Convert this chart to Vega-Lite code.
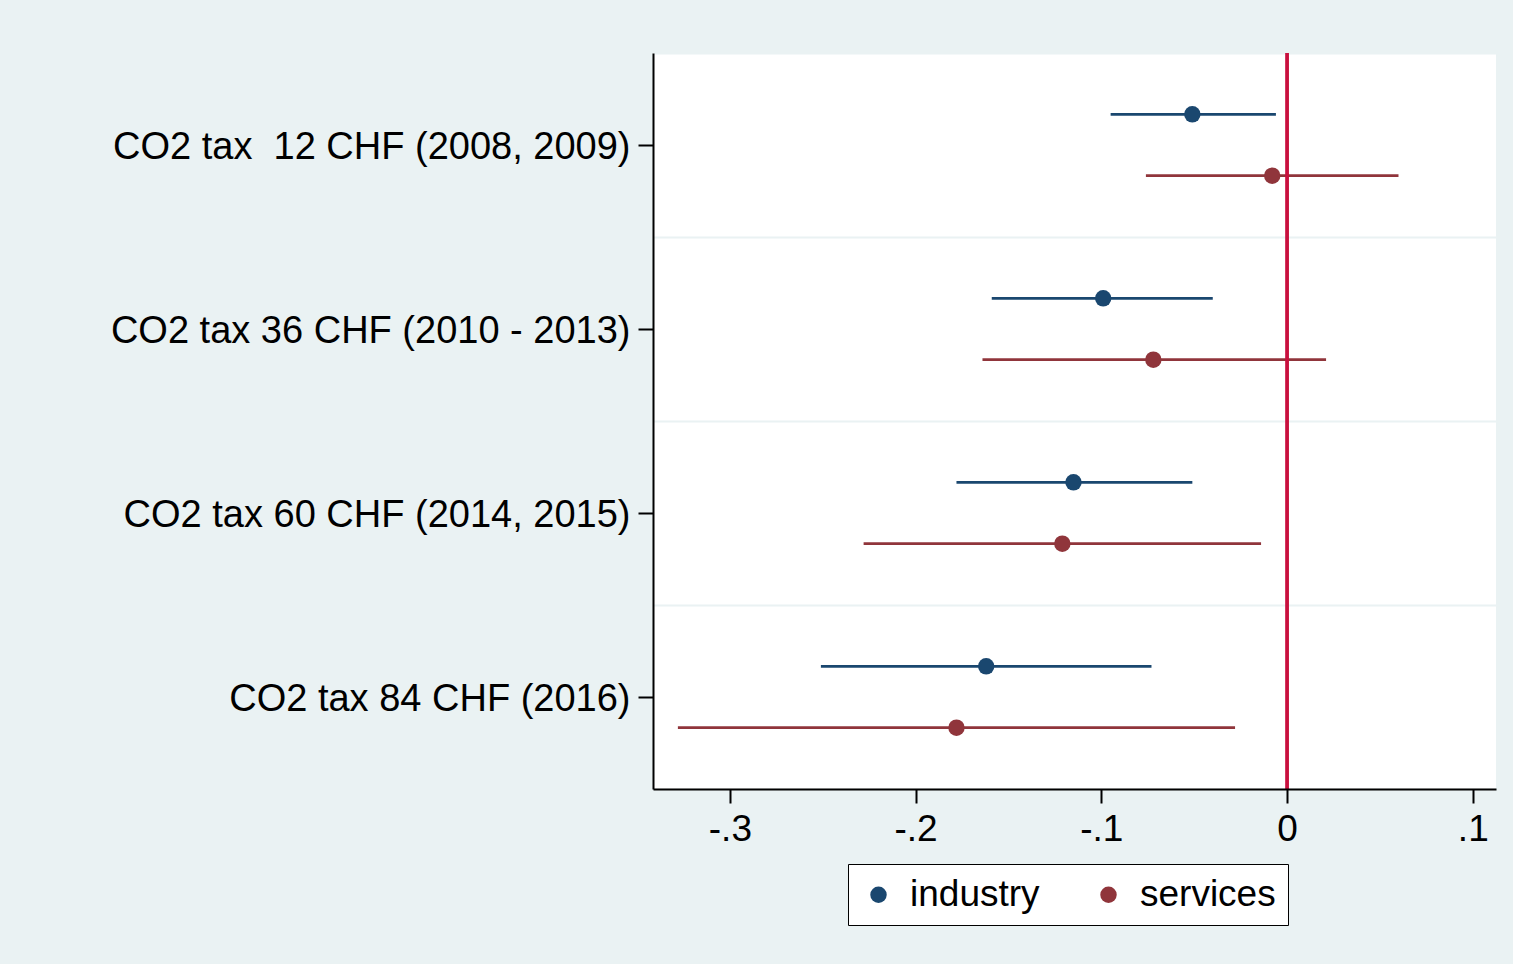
{
  "$schema": "https://vega.github.io/schema/vega-lite/v6.json",
  "width": 843,
  "height": 736,
  "autosize": {"type": "none"},
  "padding": {"left": 653, "top": 53, "right": 17, "bottom": 175},
  "background": "#EAF2F3",
  "config": {"view": {"fill": "white", "stroke": null}, "font": "Liberation Sans"},
  "data": {
    "values": [
      {"tax": "CO2 tax\u00a0 12 CHF (2008, 2009)", "sector": "industry", "est": -0.051, "lo": -0.095, "hi": -0.006},
      {"tax": "CO2 tax\u00a0 12 CHF (2008, 2009)", "sector": "services", "est": -0.008, "lo": -0.076, "hi": 0.060},
      {"tax": "CO2 tax 36 CHF (2010 - 2013)", "sector": "industry", "est": -0.099, "lo": -0.159, "hi": -0.040},
      {"tax": "CO2 tax 36 CHF (2010 - 2013)", "sector": "services", "est": -0.072, "lo": -0.164, "hi": 0.021},
      {"tax": "CO2 tax 60 CHF (2014, 2015)", "sector": "industry", "est": -0.115, "lo": -0.178, "hi": -0.051},
      {"tax": "CO2 tax 60 CHF (2014, 2015)", "sector": "services", "est": -0.121, "lo": -0.228, "hi": -0.014},
      {"tax": "CO2 tax 84 CHF (2016)", "sector": "industry", "est": -0.162, "lo": -0.251, "hi": -0.073},
      {"tax": "CO2 tax 84 CHF (2016)", "sector": "services", "est": -0.178, "lo": -0.328, "hi": -0.028}
    ]
  },
  "resolve": {"axis": {"y": "independent"}},
  "layer": [
    {
      "mark": {"type": "rule", "strokeWidth": 2.8},
      "encoding": {
        "y": {
          "field": "tax", "type": "nominal", "sort": null,
          "scale": {"paddingInner": 0, "paddingOuter": 0},
          "axis": {
            "orient": "left", "title": null, "grid": false, "zindex": 1,
            "labelFontSize": 38, "labelColor": "black", "labelPadding": 8, "labelLimit": 1000,
            "labelOffset": 3,
            "tickSize": 15, "tickWidth": 2, "tickColor": "black",
            "domainColor": "black", "domainWidth": 2
          }
        },
        "yOffset": {
          "field": "sector", "type": "nominal", "sort": ["industry", "services"],
          "scale": {"paddingInner": 0, "paddingOuter": 0.5}
        },
        "x": {
          "field": "lo", "type": "quantitative", "title": null,
          "scale": {"domain": [-0.3414, 0.1125], "nice": false, "zero": false},
          "axis": {
            "title": null, "grid": false, "zindex": 1,
            "values": [-0.3, -0.2, -0.1, 0, 0.1],
            "labelExpr": "datum.value == 0 ? '0' : (datum.value < 0 ? '-' : '') + '.' + format(abs(datum.value) * 10, '.0f')",
            "labelFontSize": 37, "labelColor": "black", "labelPadding": 8,
            "tickSize": 14, "tickWidth": 2, "tickColor": "black",
            "domainColor": "black", "domainWidth": 2
          }
        },
        "x2": {"field": "hi"},
        "color": {
          "field": "sector", "type": "nominal",
          "scale": {"domain": ["industry", "services"], "range": ["#1A476F", "#90353B"]}
        }
      }
    },
    {
      "mark": {"type": "point", "filled": true, "size": 270, "opacity": 1},
      "encoding": {
        "y": {
          "field": "tax", "type": "nominal", "sort": null,
          "axis": {
            "orient": "left", "title": null, "grid": true, "tickBand": "extent",
            "gridColor": "#EAF2F3", "gridWidth": 2,
            "labels": false, "ticks": false, "domain": false, "zindex": 0
          }
        },
        "yOffset": {"field": "sector", "type": "nominal", "sort": ["industry", "services"]},
        "x": {"field": "est", "type": "quantitative", "title": null},
        "color": {
          "field": "sector", "type": "nominal",
          "scale": {"domain": ["industry", "services"], "range": ["#1A476F", "#90353B"]},
          "legend": {
            "orient": "none", "legendX": 195, "legendY": 811, "direction": "horizontal",
            "title": null, "strokeColor": "black", "fillColor": "white",
            "padding": 12, "cornerRadius": 0,
            "labelFontSize": 37, "labelColor": "black", "labelOffset": 13,
            "symbolType": "circle", "symbolSize": 270, "symbolOpacity": 1, "symbolStrokeWidth": 0,
            "columnPadding": 50
          }
        }
      }
    },
    {
      "mark": {"type": "rule", "color": "#C8103E", "strokeWidth": 2.5},
      "encoding": {"x": {"datum": 0}}
    }
  ]
}
